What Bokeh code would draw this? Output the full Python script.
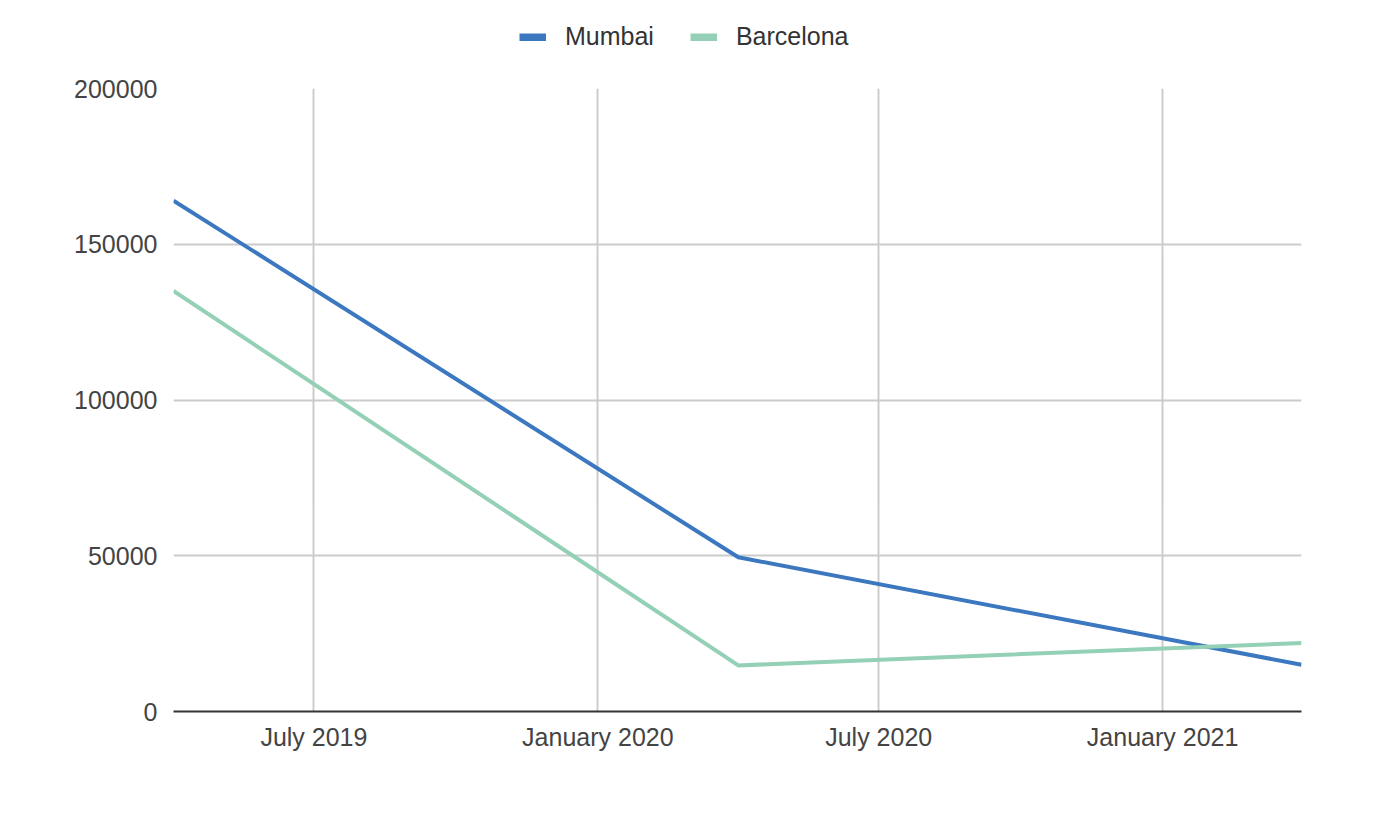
from datetime import datetime

from bokeh.embed import file_html
from bokeh.layouts import column
from bokeh.models import (BasicTickFormatter, DatetimeTickFormatter, FixedTicker,
                          Legend, LegendItem, Range1d)
from bokeh.plotting import figure
from bokeh.resources import INLINE

# Data: yearly observations (April of each year)
dates = [datetime(2019, 4, 1), datetime(2020, 4, 1), datetime(2021, 4, 1)]
mumbai = [164000, 49500, 15000]
barcelona = [135000, 14800, 22000]
series_names = ["Mumbai", "Barcelona"]

x_ticks = [datetime(2019, 7, 1), datetime(2020, 1, 1),
           datetime(2020, 7, 1), datetime(2021, 1, 1)]
y_ticks = [0, 50000, 100000, 150000, 200000]

FONT = "Liberation Sans"
COLORS = ["#3b78c0", "#93d0b5"]
series_values = [mumbai, barcelona]


def to_ms(d):
    return (d - datetime(1970, 1, 1)).total_seconds() * 1000.0


# ---- legend strip across the top ----
# The strip's ranges sit far from the data, so its series lines stay off-view
# and only serve as legend swatches.
leg = figure(width=1400, height=76, x_axis_type="datetime",
             x_range=Range1d(datetime(1990, 1, 1), datetime(1990, 1, 2)),
             y_range=Range1d(-2, -1),
             output_backend="svg", toolbar_location=None,
             min_border_left=0, min_border_right=0,
             min_border_top=0, min_border_bottom=0)
leg.axis.visible = False
leg.grid.visible = False
leg.outline_line_color = None
swatches = [leg.line(dates, vals, line_color=c, line_width=8)
            for vals, c in zip(series_values, COLORS)]
legend = Legend(items=[LegendItem(label=n, renderers=[r])
                       for n, r in zip(series_names, swatches)],
                orientation="horizontal", location=(346, 25),
                label_text_font=FONT, label_text_font_size="25px",
                label_text_color="#333333",
                glyph_width=27, glyph_height=8, label_standoff=19,
                spacing=36, border_line_color=None,
                background_fill_alpha=0, padding=0, margin=0)
leg.add_layout(legend, "center")

# ---- main chart ----
p = figure(width=1400, height=750, x_axis_type="datetime",
           x_range=Range1d(dates[0], dates[-1]),
           y_range=Range1d(0, 200000),
           output_backend="svg", toolbar_location=None,
           min_border_left=173, min_border_right=99,
           min_border_top=12, min_border_bottom=115)
p.outline_line_color = None
p.background_fill_color = "white"
p.border_fill_color = "white"

# grid
p.xgrid.ticker = FixedTicker(ticks=[to_ms(d) for d in x_ticks])
p.ygrid.ticker = FixedTicker(ticks=y_ticks)
for g in (p.xgrid, p.ygrid):
    g.grid_line_color = "#cccccc"
    g.grid_line_width = 2

# axes
xa = p.xaxis[0]
xa.ticker = FixedTicker(ticks=[to_ms(d) for d in x_ticks])
fmt = "%B %Y"
xa.formatter = DatetimeTickFormatter(
    milliseconds=fmt, seconds=fmt, minsec=fmt, minutes=fmt, hourmin=fmt,
    hours=fmt, days=fmt, months=fmt, years=fmt, context=None)
xa.axis_line_color = "#333333"
xa.axis_line_width = 2
xa.major_tick_line_color = None
xa.minor_tick_line_color = None
xa.major_label_text_font = FONT
xa.major_label_text_font_size = "25px"
xa.major_label_text_color = "#444444"
xa.major_label_standoff = 5

ya = p.yaxis[0]
ya.ticker = FixedTicker(ticks=y_ticks)
ya.formatter = BasicTickFormatter(use_scientific=False)
ya.axis_line_color = None
ya.major_tick_line_color = None
ya.minor_tick_line_color = None
ya.major_label_text_font = FONT
ya.major_label_text_font_size = "25px"
ya.major_label_text_color = "#444444"
ya.major_label_standoff = 10

# series
for vals, c in zip(series_values, COLORS):
    p.line(dates, vals, line_color=c, line_width=4)

page = column(leg, p, spacing=0)
open("out.html", "w").write(file_html(page, INLINE))
